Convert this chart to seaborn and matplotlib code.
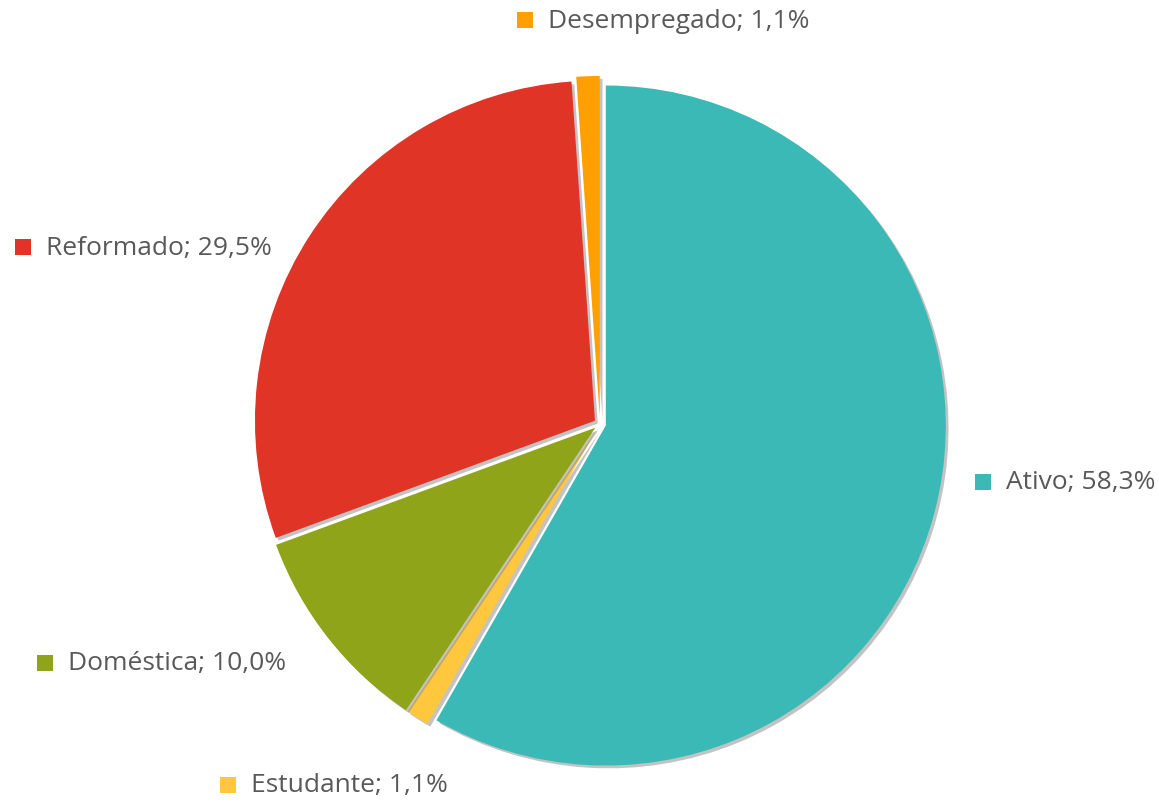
import matplotlib
matplotlib.use("Agg")
import matplotlib.pyplot as plt
import matplotlib.patheffects as pe
from matplotlib.patches import Rectangle
import seaborn as sns

sns.set_theme(style="white")
plt.rcParams['font.family'] = ['Open Sans', 'DejaVu Sans']

# dados
categorias = ["Ativo", "Estudante", "Doméstica", "Reformado", "Desempregado"]
valores = [58.3, 1.1, 10.0, 29.5, 1.1]
cores = ["#3BB9B6", "#FFC73E", "#8FA419", "#E03426", "#FF9F00"]
rotulos = [f"{c}; {v:.1f}%".replace(".", ",") for c, v in zip(categorias, valores)]

# posicao dos rotulos (pixels, topo = 0)
pos_rotulos = {
    "Ativo": (975, 483),
    "Estudante": (220, 786),
    "Doméstica": (37, 664),
    "Reformado": (15, 248),
    "Desempregado": (517, 21),
}

W, H = 1159, 803
fig = plt.figure(figsize=(W / 100, H / 100), dpi=100)
ax = fig.add_axes([0, 0, 1, 1])

# explode em unidades de dados (pixels aqui)
afast = [6, 6, 6, 6, 8]

wedges, _ = ax.pie(
    valores,
    colors=cores,
    startangle=90,
    counterclock=False,
    center=(600, H - 425),
    radius=340,
    explode=afast,
    wedgeprops=dict(linewidth=0),
    frame=True,
)
for w in wedges:
    w.set_path_effects([
        pe.SimplePatchShadow(offset=(2, -2), shadow_rgbFace="#888888", alpha=0.5),
        pe.Normal(),
    ])

ax.set_xlim(0, W)
ax.set_ylim(0, H)
ax.set_aspect("equal")
ax.axis("off")

for cat, rot, cor in zip(categorias, rotulos, cores):
    x, y = pos_rotulos[cat]
    ax.add_patch(Rectangle((x, H - y - 8), 16, 16, color=cor, linewidth=0))
    ax.text(x + 31, H - y, rot, fontsize=19, color="#595959",
            va="center", ha="left")

fig.savefig("out.png", dpi=100, facecolor="white")
